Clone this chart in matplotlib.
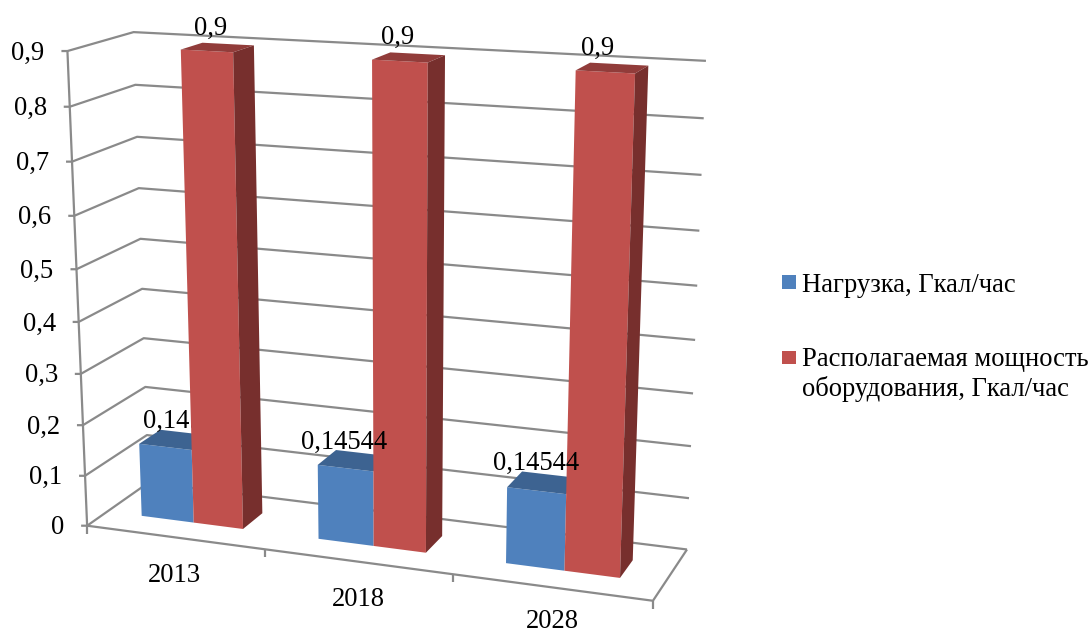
import numpy as np
import matplotlib
matplotlib.use("Agg")
import matplotlib.pyplot as plt

plt.rcParams['font.family'] = ['Liberation Serif', 'DejaVu Sans']

years = ["2013", "2018", "2028"]
load = [0.14544, 0.14544, 0.14544]
capacity = [0.9, 0.9, 0.9]
load_labels = ["0,14544", "0,14544", "0,14544"]
capacity_labels = ["0,9", "0,9", "0,9"]
y_ticks = [0, 0.1, 0.2, 0.3, 0.4, 0.5, 0.6, 0.7, 0.8, 0.9]
y_labels = ["0", "0,1", "0,2", "0,3", "0,4", "0,5", "0,6", "0,7", "0,8", "0,9"]
legend_names = ["Нагрузка, Гкал/час", "Располагаемая мощность\nоборудования, Гкал/час"]

YMAX = 0.9
GRID = "#8A8A8A"
BLUE, BLUE_TOP = "#4F81BD", "#3D6391"
RED, RED_TOP, RED_SIDE = "#C0504D", "#913C3A", "#772F2D"
FS = 19.2

# camera of the fake 3d box, fitted from box corners seen in the picture
# world = category position (0..3), depth (0..1), value (0..0.9)
world = [(0, 0, 0), (0, 0, YMAX), (0, 1, 0), (0, 1, YMAX), (3, 1, 0), (3, 1, YMAX),
         (3, 0, 0), (1, 0, 0), (2, 0, 0)]
pixels = [(87, 525), (68, 51), (149, 483), (133, 32), (687, 549), (706, 61),
          (653, 601), (264, 550), (453, 574)]
rows = []
for (a, b, c), (u, v) in zip(world, pixels):
    rows.append([a, b, c * 10, 1, 0, 0, 0, 0, -u * a, -u * b, -u * c * 10, -u])
    rows.append([0, 0, 0, 0, a, b, c * 10, 1, -v * a, -v * b, -v * c * 10, -v])
cam = np.linalg.svd(np.array(rows, dtype=float))[2][-1].reshape(3, 4)


def proj(x, d, val):
    p = cam @ np.array([x, d, val * 10, 1.0])
    return p[0] / p[2], p[1] / p[2]


fig = plt.figure(figsize=(10.9, 6.32), dpi=100)
ax = fig.add_axes([0, 0, 1, 1])
ax.set_xlim(0, 1090)
ax.set_ylim(632, 0)
ax.axis("off")


def line(pts, z=1):
    xs, ys = zip(*pts)
    ax.plot(xs, ys, color=GRID, lw=1.6, zorder=z, solid_capstyle="butt")


# gridlines on the walls
for t, lab in zip(y_ticks, y_labels):
    fx, fy = proj(0, 0, t)
    line([(fx - 6, fy), (fx, fy), proj(0, 1, t), proj(3, 1, t)])
    ax.text(fx - 23, fy + 2, lab, fontsize=FS, ha="right", va="center", zorder=5)

# box edges and category ticks
line([proj(0, 0, 0), proj(0, 0, YMAX)])
line([proj(0, 0, 0), proj(3, 0, 0), proj(3, 1, 0)])
for i in range(4):
    bx, by = proj(i, 0, 0)
    line([(bx, by), (bx, by + 8)])

label_pos = [(174, 575), (358, 599), (552, 621)]
load_shift = [-17, -35, -29]
cap_shift = [-17, -20, -22]
X0, XMID, X1 = 0.2, 0.5, 0.78
D0, D1 = 0.32, 0.67


def bar(i, a, b, val, front, top, side, z):
    ax.fill(*zip(*[proj(i + a, D0, 0), proj(i + b, D0, 0), proj(i + b, D0, val), proj(i + a, D0, val)]),
            color=front, lw=0, zorder=z)
    ax.fill(*zip(*[proj(i + a, D0, val), proj(i + b, D0, val), proj(i + b, D1, val), proj(i + a, D1, val)]),
            color=top, lw=0, zorder=z)
    if side:
        ax.fill(*zip(*[proj(i + b, D0, 0), proj(i + b, D1, 0), proj(i + b, D1, val), proj(i + b, D0, val)]),
                color=side, lw=0, zorder=z)


for i, year in enumerate(years):
    bar(i, X0, XMID, load[i], BLUE, BLUE_TOP, None, 2)
    bar(i, XMID, X1, capacity[i], RED, RED_TOP, RED_SIDE, 3)
    ax.text(label_pos[i][0], label_pos[i][1], year, fontsize=FS, ha="center", va="center", zorder=5)

    # first blue label sits under the red bar in the original
    tx, ty = proj(i + X0, D1, load[i])
    ax.text(tx + load_shift[i], ty - 8, load_labels[i], fontsize=FS, ha="left", va="center",
            zorder=2.5 if i == 0 else 5)
    tx, ty = proj(i + (XMID + X1) / 2, D1, capacity[i])
    ax.text(tx + cap_shift[i], ty - 16, capacity_labels[i], fontsize=FS, ha="center", va="center", zorder=5)

# legend
ax.fill([782, 796, 796, 782], [275, 275, 289, 289], color=BLUE, lw=0)
ax.fill([782, 796, 796, 782], [351, 351, 364, 364], color=RED, lw=0)
ax.text(802, 285, legend_names[0], fontsize=FS, ha="left", va="center")
ax.text(802, 375, legend_names[1], fontsize=FS, ha="left", va="center", linespacing=1.2)

fig.savefig("out.png", dpi=100)
